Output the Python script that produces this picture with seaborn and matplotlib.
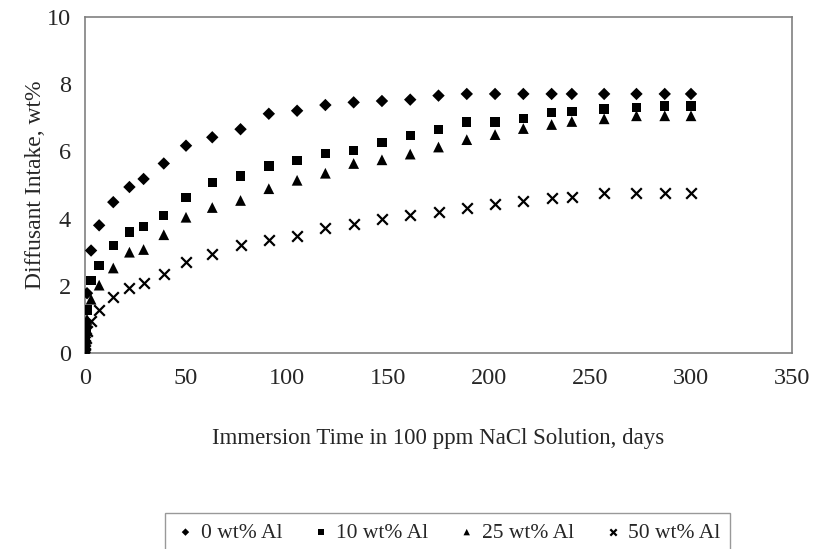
import numpy as np
import pandas as pd
import matplotlib
matplotlib.use("Agg")
import matplotlib.pyplot as plt
import seaborn as sns

days = [0, 0.1, 0.2, 0.5, 1, 3, 7, 14, 22, 29, 39, 50, 63, 77, 91, 105, 119, 133,
        147, 161, 175, 189, 203, 217, 231, 241, 257, 273, 287, 300]
al_0 = [0, 0.35, 0.6, 0.8, 1.78, 3.05, 3.80, 4.49, 4.94, 5.18, 5.64, 6.17, 6.42, 6.66,
        7.12, 7.21, 7.38, 7.46, 7.50, 7.54, 7.66, 7.71, 7.71, 7.71, 7.71, 7.71, 7.71,
        7.71, 7.71, 7.71]
al_10 = [0, 0.3, 0.5, 0.7, 1.28, 2.15, 2.61, 3.20, 3.60, 3.76, 4.10, 4.63, 5.07, 5.27,
         5.56, 5.73, 5.94, 6.03, 6.27, 6.47, 6.65, 6.87, 6.87, 6.98, 7.15, 7.19, 7.26,
         7.31, 7.35, 7.35]
al_25 = [0, 0.2, 0.4, 0.6, 1.0, 1.60, 2.02, 2.53, 3.00, 3.08, 3.52, 4.04, 4.33, 4.54,
         4.89, 5.14, 5.35, 5.64, 5.75, 5.92, 6.13, 6.35, 6.50, 6.68, 6.80, 6.89, 6.97,
         7.06, 7.06, 7.06]
al_50 = [0, 0.1, 0.25, 0.45, 0.65, 0.96, 1.27, 1.67, 1.93, 2.09, 2.34, 2.71, 2.96, 3.22,
         3.36, 3.49, 3.71, 3.83, 4.00, 4.12, 4.20, 4.32, 4.44, 4.53, 4.62, 4.65, 4.75,
         4.77, 4.77, 4.77]
series_labels = ["0 wt% Al", "10 wt% Al", "25 wt% Al", "50 wt% Al"]
x_ticks = [0, 50, 100, 150, 200, 250, 300, 350]
y_ticks = [0, 2, 4, 6, 8, 10]
x_label = "Immersion Time in 100 ppm NaCl Solution, days"
y_label = "Diffusant Intake, wt%"

frames = []
for lab, vals in zip(series_labels, [al_0, al_10, al_25, al_50]):
    frames.append(pd.DataFrame({"days": days, "intake": vals, "series": lab}))
df = pd.concat(frames, ignore_index=True)

sns.set_style("white")
plt.rcParams["font.family"] = ["Liberation Serif", "DejaVu Serif"]
plt.rcParams["font.size"] = 16

fig = plt.figure(figsize=(8.13, 5.49), dpi=100)
ax = fig.add_axes([85 / 813, 1 - 353 / 549, (792 - 85) / 813, (353 - 17) / 549])

styles = {
    "0 wt% Al": dict(marker="D", s=40),
    "10 wt% Al": dict(marker="s", s=46),
    "25 wt% Al": dict(marker="^", s=60),
    "50 wt% Al": dict(marker="x", s=58, linewidth=1.6),
}
for lab in series_labels:
    sub = df[df["series"] == lab]
    st = styles[lab]
    kw = dict(edgecolor="none") if st["marker"] != "x" else dict(linewidth=st["linewidth"])
    sns.scatterplot(data=sub, x="days", y="intake", marker=st["marker"], s=st["s"],
                    color="black", ax=ax, label=lab, zorder=3, **kw)

ax.set_xlim(0, 350)
ax.set_ylim(0, 10)
ax.set_xticks(x_ticks)
ax.set_yticks(y_ticks)
ax.set_xlabel(x_label, fontsize=16.5, labelpad=28)
ax.set_ylabel(y_label, fontsize=17, labelpad=1)
ax.tick_params(axis="both", which="both", direction="out", length=5, width=1,
               color="#808080", labelsize=17.5, pad=5)
ax.tick_params(axis="x", pad=6)
for side in ["top", "right", "left", "bottom"]:
    ax.spines[side].set_visible(True)
    ax.spines[side].set_color("#808080")
    ax.spines[side].set_linewidth(1.2)
ax.grid(False)

handles, labels = ax.get_legend_handles_labels()
leg = ax.legend(handles, labels, loc="upper left", bbox_to_anchor=(165 / 813, 1 - 513 / 549),
                bbox_transform=fig.transFigure, borderaxespad=0, ncol=4, frameon=True,
                fancybox=False, edgecolor="#808080", fontsize=15.5, markerscale=0.6,
                handletextpad=0.2, columnspacing=1.3, borderpad=0.45, handlelength=1.0)
leg.get_frame().set_linewidth(1.0)

fig.savefig("out.png", dpi=100)
